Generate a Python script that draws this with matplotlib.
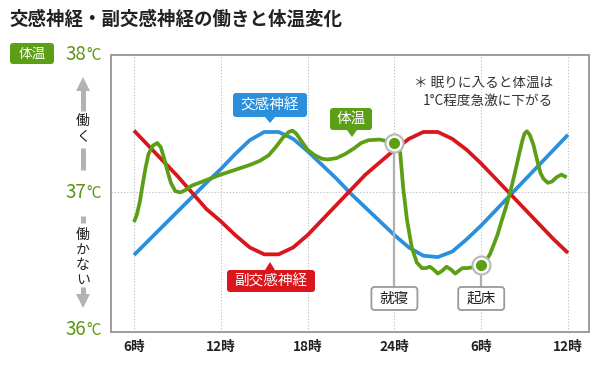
import matplotlib
matplotlib.use("Agg")
import matplotlib.pyplot as plt
from matplotlib.patches import FancyBboxPatch, Polygon

plt.rcParams["font.family"] = ["Noto Sans CJK JP", "DejaVu Sans"]

# ---- data ----
hours = list(range(6, 37))
sympathetic = [36.545, 36.65, 36.755, 36.86, 36.965, 37.07, 37.17, 37.28, 37.38, 37.44,
               37.44, 37.39, 37.30, 37.20, 37.10, 36.99, 36.89, 36.79, 36.69, 36.60,
               36.54, 36.53, 36.57, 36.66, 36.76, 36.87, 36.98, 37.09, 37.20, 37.31, 37.42]
parasympathetic = [37.45, 37.34, 37.23, 37.12, 37.00, 36.88, 36.79, 36.69, 36.60, 36.55,
                   36.55, 36.60, 36.69, 36.80, 36.91, 37.02, 37.13, 37.22, 37.31, 37.39,
                   37.44, 37.44, 37.39, 37.31, 37.21, 37.10, 36.99, 36.88, 36.77, 36.66, 36.56]

temp_hours = [6.0, 6.2, 6.4, 6.6, 6.8, 7.0, 7.3, 7.6, 7.85, 8.05, 8.3, 8.55, 8.85, 9.2,
              9.6, 10.0, 11.0, 12.0, 13.0, 14.0, 14.7, 15.3, 15.8, 16.3, 16.7, 16.95,
              17.2, 17.6, 18.0, 18.5, 19.0, 19.4, 20.0, 20.6, 21.2, 21.7, 22.2, 23.0,
              23.6, 24.0, 24.2, 24.4, 24.6, 24.87, 25.2, 25.55, 25.9, 26.2, 26.45, 26.7,
              27.0, 27.3, 27.6, 27.9, 28.2, 28.45, 28.7, 29.0, 29.4, 29.7, 30.0, 30.3,
              30.6, 30.9, 31.15, 31.4, 31.7, 32.0, 32.3, 32.6, 32.85, 33.0, 33.16, 33.35,
              33.6, 33.9, 34.1, 34.3, 34.6, 34.9, 35.2, 35.55, 35.9]
temp_values = [36.785, 36.84, 36.93, 37.06, 37.18, 37.28, 37.34, 37.36, 37.33, 37.26,
               37.16, 37.07, 37.01, 37.0, 37.02, 37.05, 37.09, 37.13, 37.165, 37.2,
               37.23, 37.27, 37.33, 37.40, 37.44, 37.45, 37.43, 37.37, 37.31, 37.27,
               37.245, 37.24, 37.25, 37.28, 37.32, 37.36, 37.38, 37.385, 37.37, 37.36,
               37.34, 37.29, 37.04, 36.80, 36.60, 36.49, 36.45, 36.45, 36.46, 36.44,
               36.41, 36.43, 36.46, 36.44, 36.41, 36.43, 36.45, 36.45, 36.455, 36.46,
               36.47, 36.50, 36.55, 36.63, 36.70, 36.79, 36.89, 37.0, 37.13, 37.27,
               37.38, 37.43, 37.445, 37.42, 37.35, 37.22, 37.14, 37.10, 37.07, 37.08,
               37.11, 37.13, 37.11]

tick_hours = [6, 12, 18, 24, 30, 36]
tick_labels = ["6時", "12時", "18時", "24時", "6時", "12時"]
temp_marks = [38, 37, 36]
bed_hour, wake_hour = 24.0, 30.0

RED = "#d8161b"
BLUE = "#2b8fdc"
GREEN = "#5c9f16"
GREEN_TXT = "#5a9610"
GRAY = "#b0b0b0"
DARK = "#222222"

W, H = 600, 380
X0, X1 = 4.41, 37.45
Y0, Y1 = 35.985, 38.0
BOX = (111, 55, 589, 332)  # left, top, right, bottom in pixels

fig = plt.figure(figsize=(W / 100, H / 100), dpi=100)
fig.patch.set_facecolor("white")
ax = fig.add_axes([BOX[0] / W, 1 - BOX[3] / H, (BOX[2] - BOX[0]) / W, (BOX[3] - BOX[1]) / H])
ax.set_xlim(X0, X1)
ax.set_ylim(Y0, Y1)

deco = fig.add_axes([0, 0, 1, 1], zorder=5)
deco.set_xlim(0, W)
deco.set_ylim(H, 0)
deco.axis("off")
deco.patch.set_alpha(0)


def hx(h):
    return BOX[0] + (h - X0) / (X1 - X0) * (BOX[2] - BOX[0])


def vy(v):
    return BOX[3] - (v - Y0) / (Y1 - Y0) * (BOX[3] - BOX[1])


# ---- axes frame / grid ----
ax.set_xticks(tick_hours)
ax.set_xticklabels(tick_labels, fontsize=9.8, fontweight="bold", color=DARK)
ax.set_yticks([37])
ax.set_yticklabels([])
ax.tick_params(length=0, pad=6)
ax.grid(True, color="#c4c4c4", linestyle=(0, (1.2, 1.6)), linewidth=0.8)
for spine in ax.spines.values():
    spine.set_edgecolor("#9c9c9c")
    spine.set_linewidth(1.4)

# ---- curves ----
ax.plot(hours, sympathetic, color=BLUE, linewidth=2.7, solid_capstyle="butt", zorder=3)
ax.plot(hours, parasympathetic, color=RED, linewidth=2.7, solid_capstyle="butt", zorder=3)
ax.plot(temp_hours, temp_values, color=GREEN, linewidth=2.7, solid_capstyle="butt",
        solid_joinstyle="round", zorder=4)

# bedtime / wake-up markers
label_top = Y0 + (BOX[3] - 287) / (BOX[3] - BOX[1]) * (Y1 - Y0)
for h, txt in [(bed_hour, "就寝"), (wake_hour, "起床")]:
    v = temp_values[temp_hours.index(h)]
    ax.plot([h, h], [v, label_top], color=GRAY, linewidth=1.6, zorder=5)
    ax.plot(h, v, "o", ms=13, mfc="white", mec="#b8b8b8", mew=1.5, zorder=6)
    ax.plot(h, v, "o", ms=7, mfc=GREEN, mec=GREEN, zorder=7)
    cx = hx(h)
    deco.add_patch(FancyBboxPatch((cx - 23, 287), 46, 23,
                                  boxstyle="round,pad=0,rounding_size=3",
                                  fc="white", ec="#9a9a9a", lw=1.3))
    deco.text(cx, 298.5, txt, ha="center", va="center", fontsize=10.5, color=DARK)


# ---- callouts ----
def callout(x0, y0, w, h, tip, text, color, up=False):
    deco.add_patch(FancyBboxPatch((x0, y0), w, h, boxstyle="round,pad=0,rounding_size=3",
                                  fc=color, ec="none"))
    tx, ty = tip
    base = y0 if up else y0 + h
    deco.add_patch(Polygon([(tx - 5, base), (tx + 5, base), (tx, ty)], closed=True,
                           fc=color, ec="none"))
    deco.text(x0 + w / 2, y0 + h / 2, text, ha="center", va="center",
              fontsize=10.5, color="white")


callout(233, 93, 74, 24, (270, 123), "交感神経", BLUE)
callout(330, 108, 42, 22, (352, 137), "体温", GREEN)
callout(227, 270, 88, 22, (270, 262), "副交感神経", RED, up=True)

# note
deco.text(553, 83, "＊ 眠りに入ると体温は", ha="right", va="center", fontsize=9.8, color="#333333")
deco.text(553, 101, "1°C程度急激に下がる", ha="right", va="center", fontsize=9.8, color="#333333")

# ---- title ----
deco.text(9, 19, "交感神経・副交感神経の働きと体温変化", ha="left", va="center",
          fontsize=13.3, fontweight="bold", color=DARK)

# ---- left scale ----
deco.add_patch(FancyBboxPatch((10, 43), 44, 21, boxstyle="round,pad=0,rounding_size=3",
                              fc=GREEN, ec="none"))
deco.text(32, 53.5, "体温", ha="center", va="center", fontsize=9.8, color="white")
for t in temp_marks:
    y = vy(t)
    deco.text(86, y, str(t), ha="right", va="center", fontsize=13.5, color=GREEN_TXT)
    deco.text(86, y + 1, "°C", ha="left", va="center", fontsize=11, color=GREEN_TXT)

ARROW = "#b3b3b3"
deco.plot([83, 83], [90, 111], color=ARROW, lw=3.6, solid_capstyle="butt")
deco.plot([83, 83], [148, 170], color=ARROW, lw=3.6, solid_capstyle="butt")
deco.add_patch(Polygon([(76, 91), (90, 91), (83, 77)], closed=True, fc=ARROW, ec="none"))
for i, ch in enumerate("働く"):
    deco.text(83, 121 + i * 16, ch, ha="center", va="center", fontsize=10, color=DARK)

deco.plot([83, 83], [216, 223], color=ARROW, lw=3.6, solid_capstyle="butt")
deco.plot([83, 83], [287, 295], color=ARROW, lw=3.6, solid_capstyle="butt")
deco.add_patch(Polygon([(76, 294), (90, 294), (83, 308)], closed=True, fc=ARROW, ec="none"))
for i, ch in enumerate("働かない"):
    deco.text(83, 235 + i * 15, ch, ha="center", va="center", fontsize=10, color=DARK)

fig.savefig("out.png", dpi=100, facecolor="white")
